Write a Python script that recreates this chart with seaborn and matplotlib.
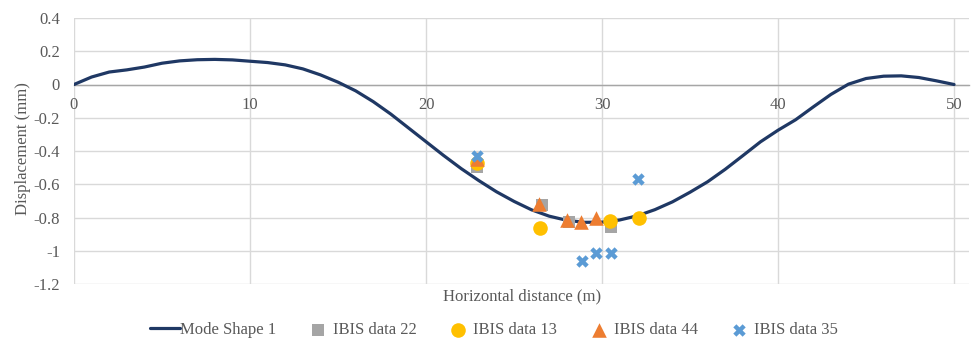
import numpy as np
import pandas as pd
import matplotlib
matplotlib.use("Agg")
import matplotlib.pyplot as plt
import seaborn as sns

# Mode shape of the structure along its length
mode_x = [0, 1, 2, 3, 4, 5, 6, 7, 8, 9, 10, 11, 12, 13, 14, 15, 16, 17, 18, 19, 20,
          21, 22, 23, 24, 25, 26, 27, 28, 29, 30, 31, 32, 33, 34, 35, 36, 37, 38, 39,
          40, 41, 42, 43, 44, 45, 46, 47, 48, 49, 50]
mode_y = [0.0, 0.045, 0.075, 0.088, 0.105, 0.128, 0.142, 0.149, 0.151, 0.148, 0.14,
          0.132, 0.118, 0.094, 0.058, 0.014, -0.038, -0.103, -0.178, -0.261, -0.344,
          -0.427, -0.506, -0.578, -0.645, -0.703, -0.754, -0.792, -0.817, -0.829,
          -0.828, -0.815, -0.79, -0.753, -0.706, -0.648, -0.585, -0.51, -0.428,
          -0.345, -0.275, -0.212, -0.135, -0.06, 0.002, 0.036, 0.05, 0.052, 0.042,
          0.022, 0.0]

# IBIS radar measurements
ibis22_x = [22.9, 26.6, 28.15, 30.5]
ibis22_y = [-0.495, -0.725, -0.83, -0.855]
ibis13_x = [22.9, 26.5, 30.45, 32.1]
ibis13_y = [-0.47, -0.865, -0.82, -0.80]
ibis44_x = [22.9, 26.4, 28.0, 28.8, 29.65]
ibis44_y = [-0.45, -0.72, -0.815, -0.83, -0.805]
ibis35_x = [22.9, 28.85, 29.65, 30.5, 32.05]
ibis35_y = [-0.43, -1.06, -1.015, -1.012, -0.57]

x_ticks = [0, 10, 20, 30, 40, 50]
y_ticks = [0.4, 0.2, 0, -0.2, -0.4, -0.6, -0.8, -1, -1.2]
y_tick_labels = ["0.4", "0.2", "0", "-0.2", "-0.4", "-0.6", "-0.8", "-1", "-1.2"]

sns.set_theme(style="white")
plt.rcParams["font.family"] = ["Liberation Serif", "DejaVu Serif"]

FS = 12
TXT = "#595959"

fig = plt.figure(figsize=(9.71, 3.45), dpi=100)
ax = fig.add_axes([74 / 971, 1 - 284 / 345, (969 - 74) / 971, (284 - 18) / 345])

mode_df = pd.DataFrame({"x": mode_x, "y": mode_y})
sns.lineplot(data=mode_df, x="x", y="y", sort=False, color="#1F3864", lw=2.3,
             ax=ax, label="Mode Shape 1", zorder=3)

series = [
    ("IBIS data 22", ibis22_x, ibis22_y, "s", "#A5A5A5", 70),
    ("IBIS data 13", ibis13_x, ibis13_y, "o", "#FFC000", 110),
    ("IBIS data 44", ibis44_x, ibis44_y, "^", "#ED7D31", 110),
    ("IBIS data 35", ibis35_x, ibis35_y, "X", "#5B9BD5", 80),
]
for name, xs, ys, mk, col, size in series:
    df = pd.DataFrame({"x": xs, "y": ys})
    sns.scatterplot(data=df, x="x", y="y", marker=mk, color=col, s=size,
                    linewidth=0, ax=ax, label=name, zorder=4)

ax.set_xlim(0, 50.85)
ax.set_ylim(-1.2, 0.4)
ax.set_xticks(x_ticks)
ax.set_xticklabels([str(v) for v in x_ticks])
ax.set_yticks(y_ticks)
ax.set_yticklabels(y_tick_labels)

ax.grid(True, color="#D9D9D9", lw=1.0)
ax.set_axisbelow(True)
for side in ["top", "right", "left"]:
    ax.spines[side].set_visible(False)
ax.spines["bottom"].set_position(("data", 0))
ax.spines["bottom"].set_color("#A6A6A6")
ax.spines["bottom"].set_linewidth(1.0)
ax.tick_params(axis="x", length=0, pad=9, labelsize=FS, colors=TXT)
ax.tick_params(axis="y", length=0, pad=10, labelsize=FS, colors=TXT)

ax.set_xlabel("")
ax.set_ylabel("")
fig.text(522 / 971, 1 - 296 / 345, "Horizontal distance (m)", ha="center",
         va="center", fontsize=FS, color=TXT)
fig.text(23 / 971, 1 - 149 / 345, "Displacement (mm)", ha="center", va="center",
         rotation=90, fontsize=FS, color=TXT)

handles, labels = ax.get_legend_handles_labels()
if ax.legend_:
    ax.legend_.remove()
fig.legend(handles, labels, loc="center", bbox_to_anchor=(494 / 971, 1 - 330 / 345),
           ncol=5, frameon=False, fontsize=FS, handlelength=1.8, handletextpad=0.0,
           columnspacing=1.6, labelcolor=TXT)

fig.savefig("out.png", dpi=100)
